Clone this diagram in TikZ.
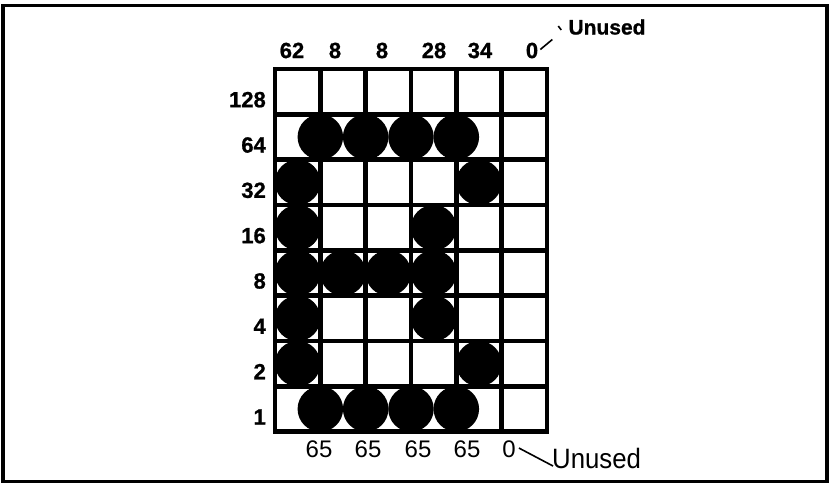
\documentclass[tikz,border=0pt]{standalone}
\usepackage{fontspec}
\setmainfont{Liberation Sans}
\newfontfamily\heavy[FakeBold=0.9]{Liberation Sans Bold}
\newfontfamily\narrowsans[FakeStretch=0.92]{Liberation Sans}
\usetikzlibrary{calc}
\tikzset{
  gridline/.style={line width=4.8pt, line cap=rect},
  frameline/.style={line width=3.6pt},
  dotmark/.style={circle, fill=black, draw=none, minimum size=45.5pt, inner sep=0pt},
  boldlabel/.style={inner sep=0pt, font=\heavy\fontsize{22}{25}\selectfont},
  rowlabel/.style={boldlabel, anchor=east},
  bottomlabel/.style={inner sep=0pt, font=\fontsize{24}{28}\selectfont},
  toptag/.style={inner sep=0pt, font=\heavy\fontsize{21}{24}\selectfont},
  bottomtag/.style={inner sep=0pt, anchor=south west, font=\narrowsans\fontsize{28}{32}\selectfont},
  leader/.style={line width=1.6pt}
}
\begin{document}
\begin{tikzpicture}[x=1pt, y=-1pt]
\useasboundingbox (0,0) rectangle (829,483);
\fill[white] (0,0) rectangle (829,483);
% outer frame
\draw[frameline] (3,5.5) rectangle (827,481.5);
\def\gx{275}\def\gy{69}\def\p{45.33}
% grid
\foreach \i in {0,...,6} {
  \draw[gridline] ({\gx+\i*\p},\gy) -- ({\gx+\i*\p},{\gy+8*\p});
}
\foreach \j in {0,...,8} {
  \draw[gridline] (\gx,{\gy+\j*\p}) -- ({\gx+6*\p},{\gy+\j*\p});
}
% full dots: column/row (row 1 = 128 at top)
\foreach \c/\r in {1/3,1/4,1/5,1/6,1/7,2/5,3/5,4/4,4/5,4/6,5/3,5/7} {
  \node[dotmark] (dot-\c-\r) at ({\gx+(\c-0.5)*\p},{\gy+(\r-0.5)*\p}) {};
}
% half dots on the lines between columns, rows 64 and 1
\foreach \k in {1,...,4} {
  \node[dotmark] (half-\k-2) at ({\gx+\k*\p},{\gy+1.5*\p}) {};
  \node[dotmark] (half-\k-8) at ({\gx+\k*\p},{\gy+7.5*\p}) {};
}
% row labels
\foreach \v [count=\r] in {128,64,32,16,8,4,2,1} {
  \node[rowlabel] (row-\r) at (266,{\gy+(\r-0.5)*\p+8}) {\v};
}
% column labels (top)
\node[boldlabel] (t1) at (292,50.5) {62};
\node[boldlabel] (t2) at (335,50.5) {8};
\node[boldlabel] (t3) at (382,50.5) {8};
\node[boldlabel] (t4) at (434,50.5) {28};
\node[boldlabel] (t5) at (480,50.5) {34};
\node[boldlabel] (t6) at (532,50.5) {0};
\node[toptag] (ut) at (607,27) {Unused};
\draw[leader] ($(t6.north east)+(2,7)$) -- ++(12,-10);
\draw[leader] ($(ut.west)+(-10,-1)$) -- ++(3,4);
% half-dot column values (bottom)
\node[bottomlabel] (b1) at (319,449) {65};
\node[bottomlabel] (b2) at (368,449) {65};
\node[bottomlabel] (b3) at (418,449) {65};
\node[bottomlabel] (b4) at (467,449) {65};
\node[bottomlabel] (b5) at (509,449) {0};
\node[bottomtag] (ub) at (552,469) {Unused};
\draw[leader] ($(b5.east)+(3,-1)$) -- ($(ub.south west)+(1,-3)$);
\end{tikzpicture}
\end{document}
